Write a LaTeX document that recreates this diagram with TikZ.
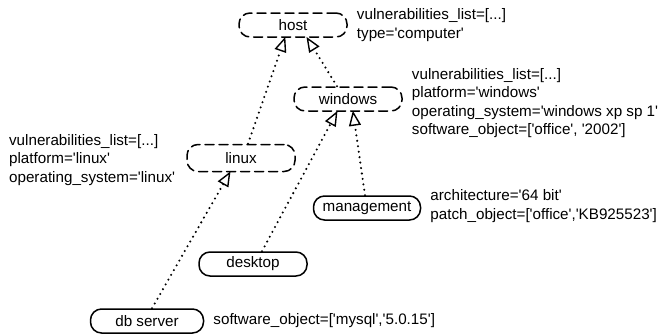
\documentclass[tikz,border=0pt]{standalone}
\usepackage{fontspec}
\setmainfont{Liberation Sans}[Ligatures=TeXOff]
\usetikzlibrary{arrows.meta,positioning}

\begin{document}
\begin{tikzpicture}[x=1pt,y=-1pt,line join=round,line cap=round,
    font=\fontsize{15.2}{18.3}\selectfont,
    cls/.style={draw,line width=1.5pt,rounded corners=11pt,
        minimum width=108pt,minimum height=24pt,inner sep=2pt},
    abstract/.style={cls,dash pattern=on 9pt off 5pt},
    anno/.style={align=left,inner sep=0pt,node distance=9pt},
    isa/.style={line width=2.3pt,dash pattern=on 0pt off 5.5pt,
        -{Triangle[open,length=15pt,width=12pt,line width=1.4pt,line join=miter,sep=-1pt]}}]
    \useasboundingbox (0,0) rectangle (662,333);

    \node[abstract] (host) at (293,25) {host};
    \node[abstract] (windows) at (348,99) {windows};
    \node[abstract,minimum height=27pt] (linux) at (241,158) {linux};
    \node[cls,minimum width=107pt] (management) at (367,208) {management};
    \node[cls] (desktop) at (253,264) {desktop};
    \node[cls,minimum width=113pt] (dbserver) at (147,321) {db server};

    \node[anno,right=of host] (hostattr) {vulnerabilities\_list=[...]\\type='computer'};
    \node[anno,right=of windows,yshift=-4pt] (windowsattr) {vulnerabilities\_list=[...]\\platform='windows'\\operating\_system='windows xp sp 1'\\software\_object=['office', '2002']};
    \node[anno,left=of linux,xshift=-2pt,yshift=-2pt] (linuxattr) {vulnerabilities\_list=[...]\\platform='linux'\\operating\_system='linux'};
    \node[anno,right=of management,yshift=2pt] (managementattr) {architecture='64 bit'\\patch\_object=['office','KB925523']};
    \node[anno,right=of dbserver] (dbserverattr) {software\_object=['mysql','5.0.15']};

    \draw[isa] ([xshift=7pt]linux.north) -- ([xshift=-8pt]host.south);
    \draw[isa] ([xshift=-11pt]windows.north) -- ([xshift=14pt]host.south);
    \draw[isa] ([xshift=9pt]desktop.north) -- ([xshift=-11pt]windows.south);
    \draw[isa] ([xshift=-2pt]management.north) -- ([xshift=5pt]windows.south);
    \draw[isa] ([xshift=5pt]dbserver.north) -- ([xshift=-11pt]linux.south);
\end{tikzpicture}
\end{document}
